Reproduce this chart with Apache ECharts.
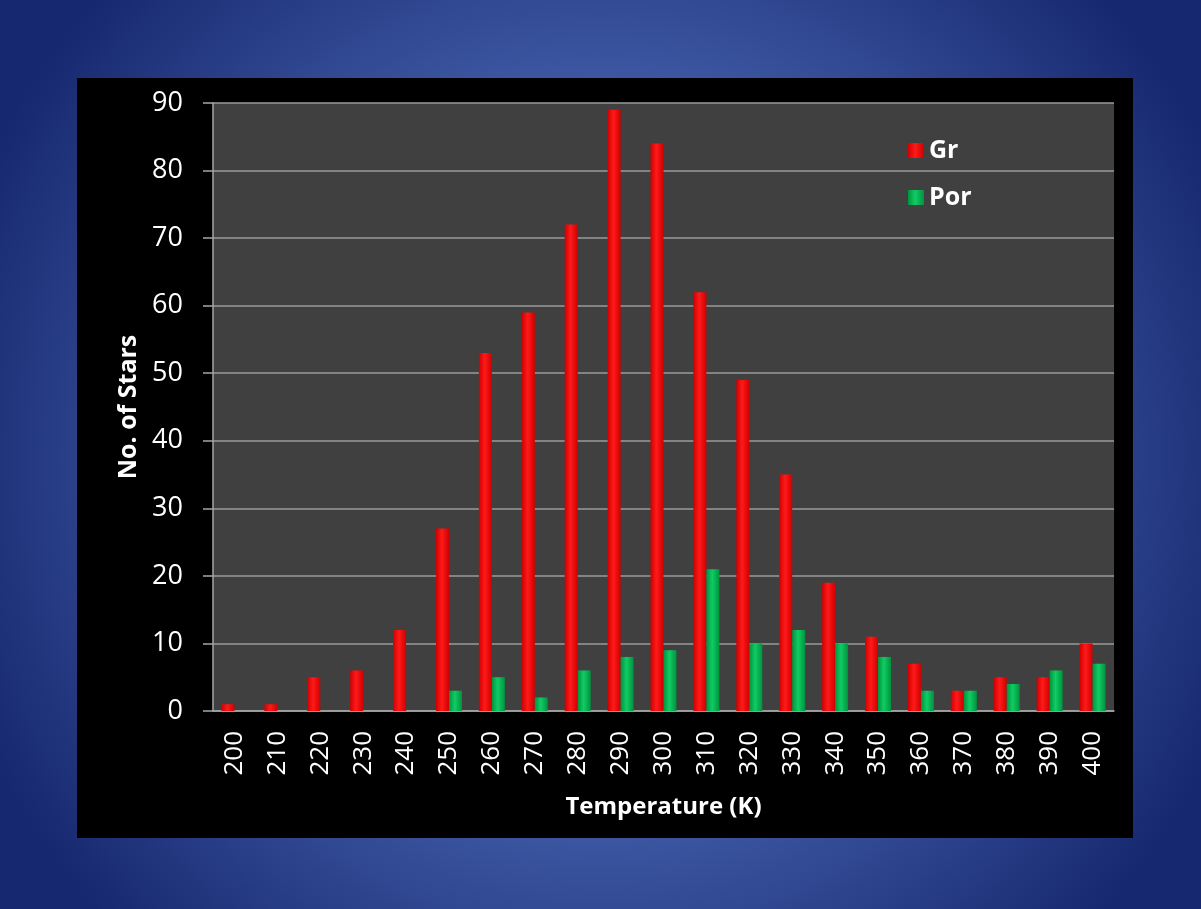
<!DOCTYPE html>
<html>
<head>
<meta charset="utf-8">
<script src="https://cdn.jsdelivr.net/npm/echarts@6/dist/echarts.min.js"></script>
<style>
html,body{margin:0;padding:0;width:1201px;height:909px;overflow:hidden;}
#chart{width:1201px;height:909px;}
</style>
</head>
<body>
<div id="chart"></div>
<script>
const categories = ['200','210','220','230','240','250','260','270','280','290','300','310','320','330','340','350','360','370','380','390','400'];
const grValues  = [1, 1, 5, 6, 12, 27, 53, 59, 72, 89, 84, 62, 49, 35, 19, 11, 7, 3, 5, 5, 10];
const porValues = [0, 0, 0, 0, 0, 3, 5, 2, 6, 8, 9, 21, 10, 12, 10, 8, 3, 3, 4, 6, 7];
const yTicks = { min: 0, max: 90, interval: 10 };

const chart = echarts.init(document.getElementById('chart'));
const font = '"Open Sans", "Noto Sans", sans-serif';

function hGrad(edge, mid) {
  return new echarts.graphic.LinearGradient(0, 0, 1, 0, [
    { offset: 0, color: edge },
    { offset: 0.45, color: mid },
    { offset: 1, color: edge }
  ]);
}

chart.setOption({
  backgroundColor: new echarts.graphic.RadialGradient(0.5, 0.5, 0.75, [
    { offset: 0, color: '#5a75ba' },
    { offset: 0.55, color: '#3d57a2' },
    { offset: 1, color: '#16286f' }
  ]),
  textStyle: { fontFamily: font },
  graphic: [{
    type: 'rect',
    z: -10,
    silent: true,
    shape: { x: 77, y: 78, width: 1056, height: 760 },
    style: { fill: '#000000' }
  }],
  grid: {
    left: 213, right: 87, top: 103, bottom: 198,
    show: true,
    backgroundColor: '#404040',
    borderWidth: 0
  },
  legend: {
    orient: 'vertical',
    left: 903,
    top: 132,
    icon: 'rect',
    itemWidth: 16,
    itemHeight: 15,
    itemGap: 20,
    textStyle: { color: '#ffffff', fontSize: 25, fontWeight: 'bold', fontFamily: font, lineHeight: 27 },
    data: ['Gr', 'Por']
  },
  xAxis: {
    type: 'category',
    data: categories,
    name: 'Temperature (K)',
    nameLocation: 'middle',
    nameGap: 84,
    nameTextStyle: { color: '#ffffff', fontSize: 24, fontWeight: 'bold', fontFamily: font },
    axisLine: { show: true, lineStyle: { color: '#a6a6a6', width: 1.5 } },
    axisTick: { show: false },
    axisLabel: { color: '#ffffff', fontSize: 26, rotate: 90, margin: 20, fontFamily: font },
    splitLine: { show: false }
  },
  yAxis: {
    type: 'value',
    min: yTicks.min,
    max: yTicks.max,
    interval: yTicks.interval,
    name: 'No. of Stars',
    nameLocation: 'middle',
    nameGap: 64,
    nameTextStyle: { color: '#ffffff', fontSize: 25, fontWeight: 'bold', fontFamily: font },
    axisLine: { show: true, lineStyle: { color: '#a6a6a6', width: 1.5 } },
    axisTick: { show: true, inside: false, length: 10, lineStyle: { color: '#a6a6a6', width: 1.5 } },
    axisLabel: { color: '#ffffff', fontSize: 27, margin: 30, fontFamily: font },
    splitLine: { show: true, lineStyle: { color: '#9a9a9a', width: 1.5 } }
  },
  series: [{
    name: 'Gr',
    type: 'bar',
    data: grValues,
    barWidth: 13,
    barGap: '0%',
    itemStyle: { color: hGrad('#d00000', '#ff1a1a') }
  }, {
    name: 'Por',
    type: 'bar',
    data: porValues,
    barWidth: 13,
    barGap: '0%',
    itemStyle: { color: hGrad('#00933f', '#10cc63') }
  }],
  animation: false
});
</script>
</body>
</html>
